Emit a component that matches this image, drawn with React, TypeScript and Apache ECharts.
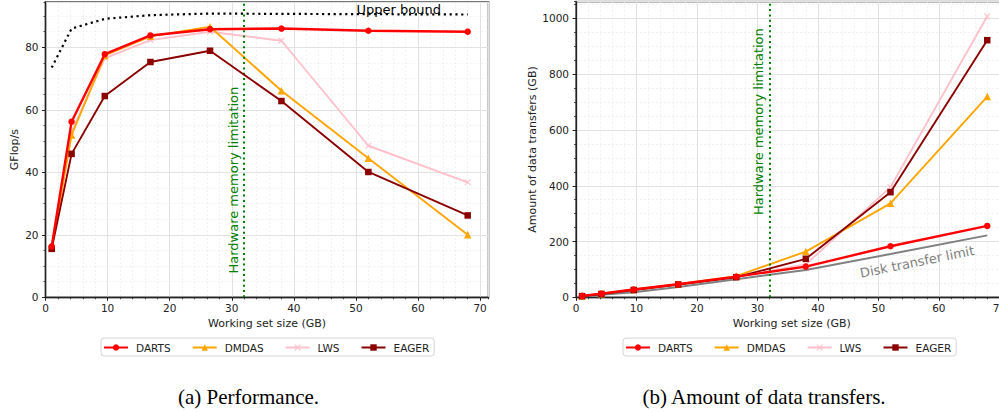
import React, { useEffect, useRef } from "react";
import * as echarts from "echarts";

// ---------- data ----------
const sizes = [1, 4.2, 9.55, 16.9, 26.5, 38, 52, 68];
const perfDARTS = [16.3, 56.2, 77.8, 83.8, 85.8, 86.0, 85.3, 85.0];
const perfDMDAS = [16.0, 51.9, 77.4, 83.5, 86.6, 66.1, 44.5, 20.0];
const perfLWS = [15.6, 53.0, 76.5, 82.3, 85.0, 82.1, 48.5, 36.8];
const perfEAGER = [15.5, 45.9, 64.4, 75.3, 78.9, 62.8, 40.1, 26.2];
const perfUpper = [73.5, 86.0, 89.1, 90.3, 90.8, 90.7, 90.6, 90.5];

const xferDARTS = [5, 13, 28, 47, 74, 110, 183, 256];
const xferDMDAS = [5, 13, 28, 47, 76, 164, 337, 720];
const xferLWS = [5, 13, 27, 47, 73, 118, 395, 1008];
const xferEAGER = [4, 12, 26, 46, 72, 138, 377, 922];
const xferDisk = [2, 9, 18, 37, 65, 98, 155, 222];

const memoryLimit = 32;
const names = ["DARTS", "DMDAS", "LWS", "EAGER"];
const perfSeries = [perfDARTS, perfDMDAS, perfLWS, perfEAGER];
const xferSeries = [xferDARTS, xferDMDAS, xferLWS, xferEAGER];

// ---------- styles ----------
const FONT = "DejaVu Sans";
const CROSS =
  "path://M0,1.2L1.2,0L5,3.8L8.8,0L10,1.2L6.2,5L10,8.8L8.8,10L5,6.2L1.2,10L0,8.8L3.8,5Z";
const colors = ["#ff0000", "#ffa500", "#ffc0cb", "#8b0000"];
const symbols = ["circle", "triangle", CROSS, "rect"];
const symbolSizes = [6.5, 7.5, 6.5, 6.5];
const lineWidths = [2.4, 1.9, 1.9, 1.9];
const zs = [6, 4, 3, 5];

const X_MAX = 71.35;
const PERF_MAX = 94.5;
const XFER_MAX = 1060;

function majorX(gridIndex: number) {
  return {
    type: "value",
    gridIndex,
    min: 0,
    max: X_MAX,
    interval: 10,
    position: "bottom",
    z: 1,
    axisLine: { show: true, onZero: false, lineStyle: { color: "#222", width: 1.3 } },
    axisTick: { show: true, length: 3.5, lineStyle: { color: "#222", width: 1 } },
    axisLabel: {
      margin: 5,
      fontFamily: FONT,
      fontSize: 10.5,
      color: "#222",
      showMaxLabel: false,
      formatter: (v: number) => (Math.abs(v % 10) < 1e-9 ? String(v) : ""),
    },
    splitLine: { show: true, lineStyle: { color: "#e2e2e2", width: 1 } },
    name: "Working set size (GB)",
    nameLocation: "middle",
    nameGap: 20,
    nameTextStyle: { fontFamily: FONT, fontSize: 11, color: "#222" },
  };
}
function minorX(gridIndex: number) {
  return {
    type: "value",
    gridIndex,
    min: 0,
    max: X_MAX,
    interval: 2,
    position: "bottom",
    z: 0,
    axisLine: { show: false },
    axisTick: { show: true, length: 2, lineStyle: { color: "#222", width: 0.8 } },
    axisLabel: { show: false },
    splitLine: { show: true, lineStyle: { color: "#eeeeee", width: 0.8, type: [2, 2] } },
  };
}
function majorY(gridIndex: number, max: number, interval: number, name: string, gap: number) {
  return {
    type: "value",
    gridIndex,
    min: 0,
    max,
    interval,
    position: "left",
    z: 1,
    axisLine: { show: true, onZero: false, lineStyle: { color: "#222", width: 1.3 } },
    axisTick: { show: true, length: 3.5, lineStyle: { color: "#222", width: 1 } },
    axisLabel: {
      margin: 7,
      fontFamily: FONT,
      fontSize: 10.5,
      color: "#222",
      showMaxLabel: false,
      formatter: (v: number) => (Math.abs(v % interval) < 1e-9 ? String(v) : ""),
    },
    splitLine: { show: true, lineStyle: { color: "#e2e2e2", width: 1 } },
    name,
    nameLocation: "middle",
    nameGap: gap,
    nameTextStyle: { fontFamily: FONT, fontSize: 11, color: "#222" },
  };
}
function minorY(gridIndex: number, max: number, interval: number) {
  return {
    type: "value",
    gridIndex,
    min: 0,
    max,
    interval,
    position: "left",
    z: 0,
    axisLine: { show: false },
    axisTick: { show: true, length: 2, lineStyle: { color: "#222", width: 0.8 } },
    axisLabel: { show: false },
    splitLine: { show: true, lineStyle: { color: "#eeeeee", width: 0.8, type: [2, 2] } },
  };
}

function algoSeries(axisIdx: number, values: number[], i: number) {
  return {
    type: "line",
    name: names[i],
    xAxisIndex: axisIdx,
    yAxisIndex: axisIdx,
    data: sizes.map((x, k) => [x, values[k]]),
    symbol: symbols[i],
    symbolSize: symbolSizes[i],
    showSymbol: true,
    lineStyle: { color: colors[i], width: lineWidths[i] },
    itemStyle: { color: colors[i] },
    z: zs[i],
    silent: true,
    emphasis: { disabled: true },
  };
}

const memLine = {
  silent: true,
  symbol: ["none", "none"],
  label: { show: false },
  lineStyle: { color: "#008000", width: 2, type: [2, 3.3] },
  emphasis: { disabled: true },
  data: [{ xAxis: memoryLimit }],
};

function legendAt(left: number) {
  return {
    left,
    top: 338,
    orient: "horizontal",
    data: names,
    itemWidth: 24,
    itemHeight: 8,
    itemGap: 21,
    padding: [4, 5, 3, 2],
    borderColor: "#d4d4d4",
    borderWidth: 1,
    borderRadius: 3,
    selectedMode: false,
    textStyle: { fontFamily: FONT, fontSize: 10.5, color: "#222", padding: [0, 0, 0, 3] },
  };
}

export default function App() {
  const ref = useRef<HTMLDivElement>(null);
  useEffect(() => {
    if (!ref.current) return;
    const chart = echarts.init(ref.current, null, { renderer: "svg" });
    const series: any[] = [];
    perfSeries.forEach((v, i) => series.push(algoSeries(1, v, i)));
    series.push({
      type: "line",
      name: "Upper bound",
      xAxisIndex: 1,
      yAxisIndex: 1,
      data: sizes.map((x, k) => [x, perfUpper[k]]),
      symbol: "none",
      lineStyle: { color: "#000", width: 2.2, type: [2.2, 3.6] },
      z: 2,
      silent: true,
      emphasis: { disabled: true },
      markLine: memLine,
    });
    xferSeries.forEach((v, i) => series.push(algoSeries(3, v, i)));
    series.push({
      type: "line",
      name: "Disk transfer limit",
      xAxisIndex: 3,
      yAxisIndex: 3,
      data: sizes.map((x, k) => [x, xferDisk[k]]),
      symbol: "none",
      lineStyle: { color: "#808080", width: 2 },
      z: 2,
      silent: true,
      emphasis: { disabled: true },
      markLine: memLine,
    });

    const option: any = {
      animation: false,
      backgroundColor: "#ffffff",
      grid: [
        {
          left: 45.5, top: 2, width: 443, height: 295.3, show: true,
          borderColor: "#777", borderWidth: 1.8, z: 0, containLabel: false, outerBoundsMode: "none",
        },
        {
          left: 576, top: 1.7, width: 431.5, height: 295.6, show: true,
          borderColor: "#777", borderWidth: 1.8, z: 0, containLabel: false, outerBoundsMode: "none",
        },
      ],
      xAxis: [minorX(0), majorX(0), minorX(1), majorX(1)],
      yAxis: [
        minorY(0, PERF_MAX, 5),
        majorY(0, PERF_MAX, 20, "GFlop/s", 26),
        minorY(1, XFER_MAX, 50),
        majorY(1, XFER_MAX, 200, "Amount of data transfers (GB)", 37),
      ],
      legend: [legendAt(101), legendAt(623)],
      series,
    };
    chart.setOption(option);

    const perfIdx = 4;
    const xferIdx = 9;
    const pUpper = chart.convertToPixel({ seriesIndex: perfIdx }, [56.9, 92.1]);
    const pMemL = chart.convertToPixel({ seriesIndex: perfIdx }, [30.2, 37.5]);
    const pMemR = chart.convertToPixel({ seriesIndex: xferIdx }, [30.25, 630]);
    const pDisk = chart.convertToPixel({ seriesIndex: xferIdx }, [56.4, 127]);
    const txt = (p: number[], text: string, fill: string, rotation: number, size = 13, family = FONT) => ({
      type: "text",
      x: p[0],
      y: p[1],
      rotation,
      silent: true,
      z: 50,
      style: { text, fill, fontFamily: family, fontSize: size, align: "center", verticalAlign: "middle" },
    });
    chart.setOption({
      graphic: [
        txt(pUpper, "Upper bound", "#000", 0),
        txt(pMemL, "Hardware memory limitation", "#008000", Math.PI / 2),
        txt(pMemR, "Hardware memory limitation", "#008000", Math.PI / 2),
        txt(pDisk, "Disk transfer limit", "#808080", (11.5 * Math.PI) / 180),
        txt([248.5, 397], "(a) Performance.", "#000", 0, 21, "Liberation Serif"),
        txt([764, 397], "(b) Amount of data transfers.", "#000", 0, 21, "Liberation Serif"),
      ],
    });
    return () => chart.dispose();
  }, []);
  return (
    <div
      ref={ref}
      style={{ position: "fixed", left: 0, top: 0, width: 999, height: 412, overflow: "hidden", background: "#fff" }}
    />
  );
}
